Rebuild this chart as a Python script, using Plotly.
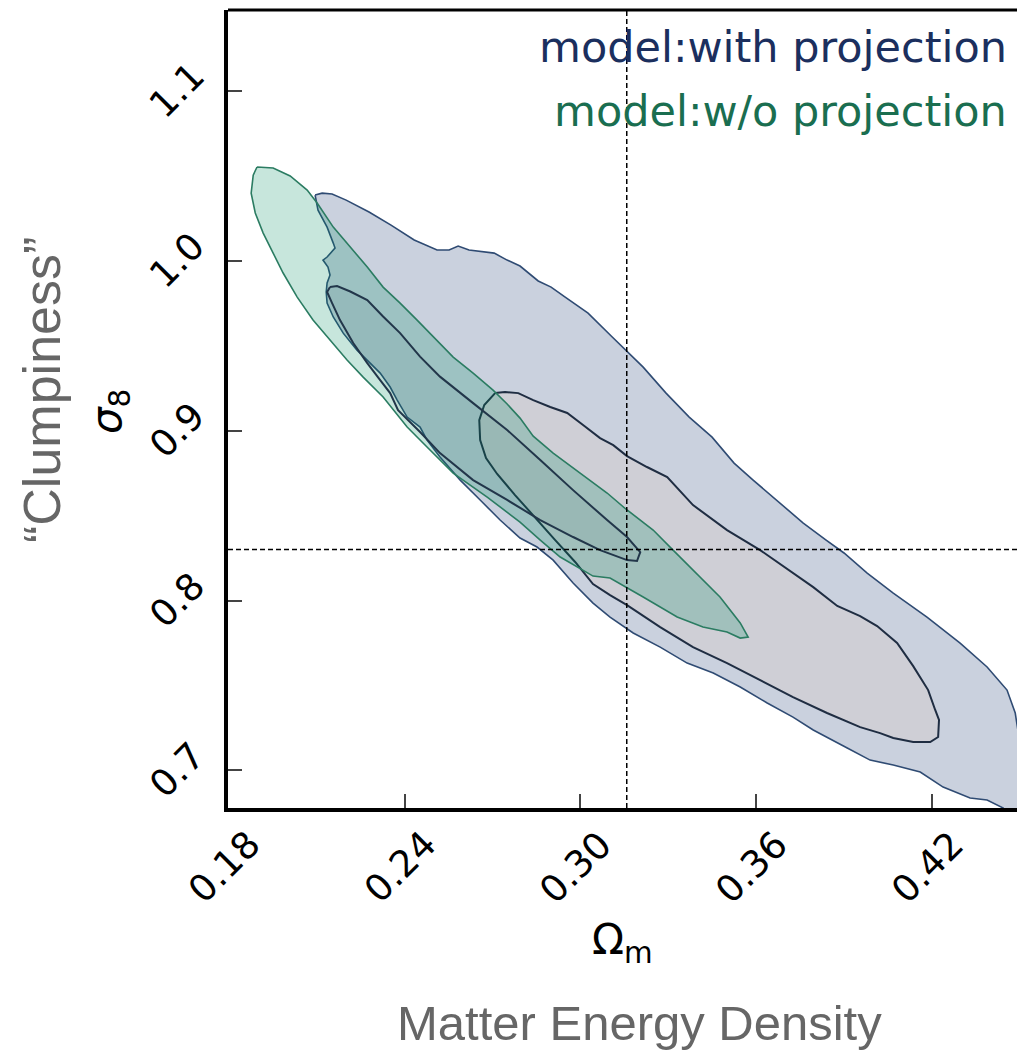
import plotly.graph_objects as go

# ---- axis ticks -------------------------------------------------------------
omega_ticks = [0.18, 0.24, 0.30, 0.36, 0.42]
omega_tick_labels = ["0.18", "0.24", "0.30", "0.36", "0.42"]
sigma_ticks = [0.7, 0.8, 0.9, 1.0, 1.1]
sigma_tick_labels = ["0.7", "0.8", "0.9", "1.0", "1.1"]

# fiducial cosmology marked by the dashed cross-hair
omega_m_fid = 0.3158
sigma_8_fid = 0.830

# ---- "with projection": 95% contour ----------------------------------------
proj_95_om = [0.2095, 0.2119, 0.2153, 0.2201, 0.2279, 0.2354, 0.2433, 0.2511, 0.2552, 0.2583,
              0.2620, 0.2706, 0.2750, 0.2794, 0.2856, 0.2900, 0.2948, 0.3026, 0.3105, 0.3156,
              0.3214, 0.3292, 0.3371, 0.3449, 0.3524, 0.3589, 0.3681, 0.3760, 0.3838, 0.3899,
              0.3978, 0.4067, 0.4182, 0.4295, 0.4387, 0.4455, 0.4483, 0.4500, 0.4551, 0.4551,
              0.4466, 0.4442, 0.4387, 0.4329, 0.4237, 0.4159, 0.4067, 0.3988, 0.3910, 0.3794,
              0.3725, 0.3637, 0.3545, 0.3453, 0.3364, 0.3272, 0.3180, 0.3101, 0.3043, 0.2975,
              0.2907, 0.2852, 0.2794, 0.2726, 0.2658, 0.2590, 0.2521, 0.2477, 0.2453, 0.2409,
              0.2375, 0.2351, 0.2317, 0.2283, 0.2238, 0.2191, 0.2157, 0.2136, 0.2133, 0.2136,
              0.2146, 0.2139, 0.2122, 0.2136, 0.2163, 0.2157, 0.2136, 0.2105]
proj_95_s8 = [1.0387, 1.0398, 1.0393, 1.0357, 1.0287, 1.0210, 1.0122, 1.0063, 1.0063, 1.0087,
              1.0063, 1.0045, 1.0004, 0.9969, 0.9881, 0.9845, 0.9786, 0.9692, 0.9557, 0.9469,
              0.9374, 0.9221, 0.9080, 0.8962, 0.8809, 0.8709, 0.8574, 0.8456, 0.8356, 0.8280,
              0.8162, 0.8044, 0.7903, 0.7750, 0.7609, 0.7473, 0.7338, 0.7149, 0.7061, 0.6590,
              0.6590, 0.6779, 0.6826, 0.6838, 0.6902, 0.6991, 0.7032, 0.7061, 0.7132, 0.7238,
              0.7314, 0.7397, 0.7491, 0.7573, 0.7632, 0.7726, 0.7809, 0.7903, 0.7985, 0.8103,
              0.8238, 0.8315, 0.8368, 0.8474, 0.8592, 0.8709, 0.8845, 0.8945, 0.9021, 0.9080,
              0.9180, 0.9257, 0.9339, 0.9398, 0.9474, 0.9574, 0.9669, 0.9751, 0.9816, 0.9869,
              0.9916, 0.9963, 1.0004, 1.0022, 1.0075, 1.0104, 1.0198, 1.0298]

# ---- "with projection": 68% contour ----------------------------------------
proj_68_om = [0.2709, 0.2743, 0.2788, 0.2839, 0.2897, 0.2955, 0.3009, 0.3067, 0.3112, 0.3159,
              0.3227, 0.3296, 0.3384, 0.3500, 0.3613, 0.3725, 0.3794, 0.3876, 0.3954, 0.4012,
              0.4080, 0.4135, 0.4186, 0.4210, 0.4223, 0.4220, 0.4193, 0.4135, 0.4067, 0.4022,
              0.3954, 0.3841, 0.3725, 0.3613, 0.3500, 0.3384, 0.3272, 0.3159, 0.3101, 0.3043,
              0.2982, 0.2914, 0.2846, 0.2777, 0.2716, 0.2678, 0.2658, 0.2655, 0.2672]
proj_68_s8 = [0.9221, 0.9227, 0.9221, 0.9180, 0.9139, 0.9104, 0.9033, 0.8956, 0.8915, 0.8850,
              0.8786, 0.8727, 0.8562, 0.8415, 0.8297, 0.8162, 0.8079, 0.7968, 0.7909, 0.7850,
              0.7750, 0.7614, 0.7473, 0.7356, 0.7297, 0.7197, 0.7167, 0.7167, 0.7191, 0.7220,
              0.7255, 0.7338, 0.7432, 0.7532, 0.7632, 0.7726, 0.7844, 0.7973, 0.8032, 0.8097,
              0.8227, 0.8356, 0.8486, 0.8621, 0.8745, 0.8839, 0.8945, 0.9062, 0.9151]

# ---- "w/o projection": 95% contour -----------------------------------------
noproj_95_om = [0.1897, 0.1952, 0.2010, 0.2068, 0.2102, 0.2157, 0.2215, 0.2273, 0.2327, 0.2385,
                0.2443, 0.2498, 0.2566, 0.2634, 0.2702, 0.2750, 0.2794, 0.2839, 0.2907, 0.2999,
                0.3091, 0.3159, 0.3248, 0.3316, 0.3408, 0.3476, 0.3545, 0.3572, 0.3545, 0.3500,
                0.3418, 0.3330, 0.3214, 0.3101, 0.3043, 0.2989, 0.2931, 0.2863, 0.2794, 0.2682,
                0.2566, 0.2487, 0.2409, 0.2327, 0.2259, 0.2204, 0.2146, 0.2088, 0.2034, 0.1986,
                0.1952, 0.1918, 0.1891, 0.1877, 0.1884]
noproj_95_s8 = [1.0552, 1.0546, 1.0499, 1.0416, 1.0340, 1.0198, 1.0081, 0.9963, 0.9845, 0.9751,
                0.9651, 0.9551, 0.9433, 0.9339, 0.9239, 0.9157, 0.9074, 0.8968, 0.8868, 0.8750,
                0.8633, 0.8533, 0.8415, 0.8297, 0.8138, 0.8021, 0.7868, 0.7785, 0.7779, 0.7815,
                0.7844, 0.7903, 0.8021, 0.8133, 0.8144, 0.8197, 0.8256, 0.8356, 0.8462, 0.8609,
                0.8750, 0.8886, 0.9021, 0.9198, 0.9315, 0.9416, 0.9533, 0.9651, 0.9786, 0.9928,
                1.0045, 1.0163, 1.0281, 1.0398, 1.0504]

# ---- "w/o projection": 68% contour -----------------------------------------
noproj_68_om = [0.2146, 0.2170, 0.2215, 0.2273, 0.2327, 0.2385, 0.2453, 0.2521, 0.2634, 0.2750,
                0.2863, 0.2975, 0.3091, 0.3159, 0.3204, 0.3193, 0.3159, 0.3067, 0.2975, 0.2863,
                0.2750, 0.2634, 0.2521, 0.2453, 0.2378, 0.2351, 0.2317, 0.2273, 0.2225, 0.2180,
                0.2153, 0.2136]
noproj_68_s8 = [0.9845, 0.9851, 0.9819, 0.9769, 0.9672, 0.9574, 0.9436, 0.9318, 0.9162, 0.9004,
                0.8827, 0.8650, 0.8474, 0.8374, 0.8285, 0.8233, 0.8238, 0.8297, 0.8374, 0.8474,
                0.8592, 0.8709, 0.8868, 0.8992, 0.9121, 0.9221, 0.9298, 0.9398, 0.9516, 0.9651,
                0.9751, 0.9816]

legend_labels = ["model:with projection", "model:w/o projection"]

NAVY = "#1b2f5e"
GREEN = "#1a6e50"
GREY_TEXT = "#666666"


def closed(xs, ys):
    return list(xs) + [xs[0]], list(ys) + [ys[0]]


def region(xs, ys, fill, edge, width):
    cx, cy = closed(xs, ys)
    return go.Scatter(x=cx, y=cy, mode="lines", fill="toself", fillcolor=fill,
                      line=dict(color=edge, width=width), hoverinfo="skip")


fig = go.Figure()
fig.add_trace(region(proj_95_om, proj_95_s8, "#cad1de", "#2f4b73", 1.6))
fig.add_trace(region(proj_68_om, proj_68_s8, "#cfcfd6", "#1f2d42", 2.0))
fig.add_trace(region(noproj_95_om, noproj_95_s8, "rgba(0,140,95,0.22)", "#2b7c62", 1.6))
fig.add_trace(region(noproj_68_om, noproj_68_s8, "rgba(40,60,80,0.06)", "#22364a", 2.0))

# dashed fiducial cross-hair
fig.add_shape(type="line", xref="x", yref="paper", x0=omega_m_fid, x1=omega_m_fid, y0=0, y1=1,
              line=dict(color="black", width=1.5, dash="5px,3px"), layer="above")
fig.add_shape(type="line", xref="paper", yref="y", x0=0, x1=1, y0=sigma_8_fid, y1=sigma_8_fid,
              line=dict(color="black", width=1.5, dash="5px,3px"), layer="above")
# top frame edge
fig.add_shape(type="line", xref="paper", yref="paper", x0=0, x1=1, y0=1, y1=1,
              line=dict(color="black", width=3), layer="above")

tick_font = dict(family="DejaVu Sans", size=37, color="black")
annotations = []
for v, t in zip(omega_ticks, omega_tick_labels):
    annotations.append(dict(x=v, xref="x", y=0, yref="paper", text=t, showarrow=False,
                            textangle=-45, xanchor="center", yanchor="middle",
                            xshift=-5, yshift=-59, font=tick_font))
for v, t in zip(sigma_ticks, sigma_tick_labels):
    annotations.append(dict(x=0, xref="paper", y=v, yref="y", text=t, showarrow=False,
                            textangle=-45, xanchor="center", yanchor="middle",
                            xshift=-51, font=tick_font))

# model labels in the upper right
for i, (lab, col) in enumerate(zip(legend_labels, [NAVY, GREEN])):
    annotations.append(dict(x=1, xref="paper", y=1, yref="paper", text=lab, showarrow=False,
                            xanchor="right", yanchor="middle", xshift=-8, yshift=-37 - 64 * i,
                            font=dict(family="DejaVu Sans", size=43, color=col)))

# axis titles
annotations.append(dict(x=0.4994, xref="paper", y=0, yref="paper", text="Ω<sub>m</sub>",
                        showarrow=False, xanchor="center", yanchor="middle", yshift=-134,
                        font=dict(family="DejaVu Sans", size=42, color="black")))
annotations.append(dict(x=0, xref="paper", y=0.5, yref="paper", text="<i>σ</i><sub>8</sub>",
                        showarrow=False, textangle=-90, xanchor="center", yanchor="middle",
                        xshift=-119, yshift=-3,
                        font=dict(family="DejaVu Sans", size=42, color="black")))
annotations.append(dict(x=0, xref="paper", y=0.5, yref="paper", text="“Clumpiness”",
                        showarrow=False, textangle=-90, xanchor="center", yanchor="middle",
                        xshift=-186, yshift=19,
                        font=dict(family="Liberation Sans", size=52, color=GREY_TEXT)))
annotations.append(dict(x=0.522, xref="paper", y=0, yref="paper", text="Matter Energy Density",
                        showarrow=False, xanchor="center", yanchor="middle", yshift=-215,
                        font=dict(family="Liberation Sans", size=49, color=GREY_TEXT)))

fig.update_layout(
    width=1017, height=1054,
    margin=dict(l=228, r=0, t=10, b=246),
    paper_bgcolor="white", plot_bgcolor="white",
    showlegend=False,
    annotations=annotations,
    xaxis=dict(range=[0.1798, 0.4489], tickvals=omega_ticks, showticklabels=False,
               ticks="inside", ticklen=14, tickwidth=1.5, tickcolor="#444",
               showline=True, linecolor="black", linewidth=4,
               showgrid=False, zeroline=False),
    yaxis=dict(range=[0.6779, 1.1476], tickvals=sigma_ticks, showticklabels=False,
               ticks="inside", ticklen=14, tickwidth=1.5, tickcolor="#444",
               showline=True, linecolor="black", linewidth=4,
               showgrid=False, zeroline=False),
)

fig.write_html("out.html")
